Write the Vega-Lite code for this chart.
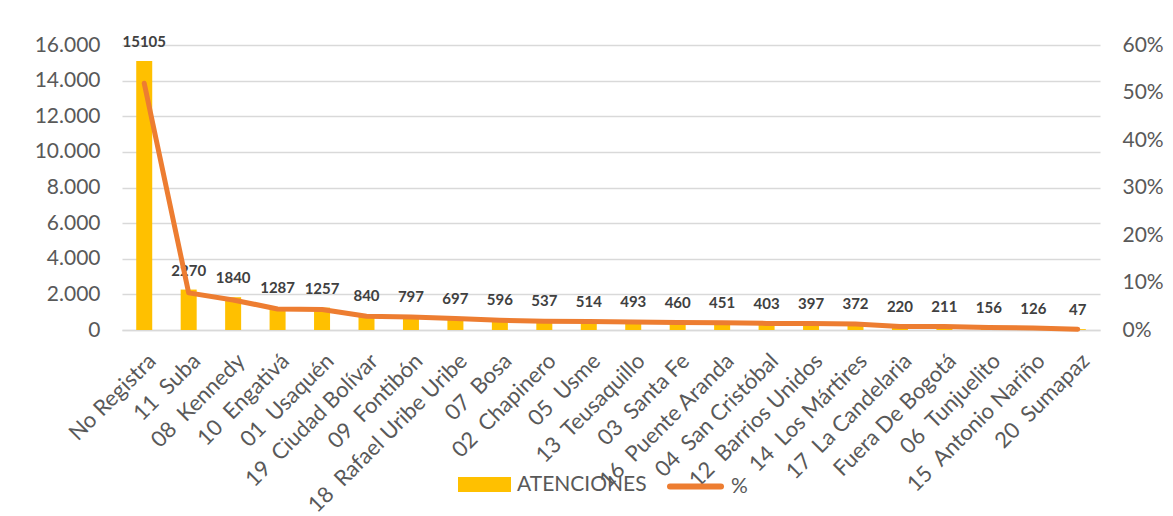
{
  "$schema": "https://vega.github.io/schema/vega-lite/v6.json",
  "autosize": {"type": "none"},
  "width": 978,
  "height": 285,
  "padding": {"left": 122, "top": 45, "right": 73, "bottom": 186},
  "background": "white",
  "config": {
    "font": "Lato",
    "view": {"stroke": null},
    "axis": {"labelFont": "Lato", "labelColor": "#595959", "labelFontSize": 21, "domain": false, "ticks": false, "grid": false, "labelOverlap": false},
    "legend": {"padding": 0}
  },
  "data": {
    "values": [
      {"cat": "No Registra", "atenciones": 15105, "pct": 0.5195},
      {"cat": "11\u00a0\u00a0Suba", "atenciones": 2270, "pct": 0.0781},
      {"cat": "08\u00a0\u00a0Kennedy", "atenciones": 1840, "pct": 0.0633},
      {"cat": "10\u00a0\u00a0Engativá", "atenciones": 1287, "pct": 0.0443},
      {"cat": "01\u00a0\u00a0Usaquén", "atenciones": 1257, "pct": 0.0432},
      {"cat": "19\u00a0\u00a0Ciudad Bolívar", "atenciones": 840, "pct": 0.0289},
      {"cat": "09\u00a0\u00a0Fontibón", "atenciones": 797, "pct": 0.0274},
      {"cat": "18\u00a0\u00a0Rafael Uribe Uribe", "atenciones": 697, "pct": 0.024},
      {"cat": "07\u00a0\u00a0Bosa", "atenciones": 596, "pct": 0.0205},
      {"cat": "02\u00a0\u00a0Chapinero", "atenciones": 537, "pct": 0.0185},
      {"cat": "05\u00a0\u00a0Usme", "atenciones": 514, "pct": 0.0177},
      {"cat": "13\u00a0\u00a0Teusaquillo", "atenciones": 493, "pct": 0.017},
      {"cat": "03\u00a0\u00a0Santa Fe", "atenciones": 460, "pct": 0.0158},
      {"cat": "16\u00a0\u00a0Puente Aranda", "atenciones": 451, "pct": 0.0155},
      {"cat": "04\u00a0\u00a0San Cristóbal", "atenciones": 403, "pct": 0.0139},
      {"cat": "12\u00a0\u00a0Barrios Unidos", "atenciones": 397, "pct": 0.0137},
      {"cat": "14\u00a0\u00a0Los Mártires", "atenciones": 372, "pct": 0.0128},
      {"cat": "17\u00a0\u00a0La Candelaria", "atenciones": 220, "pct": 0.0076},
      {"cat": "Fuera De Bogotá", "atenciones": 211, "pct": 0.0073},
      {"cat": "06\u00a0\u00a0Tunjuelito", "atenciones": 156, "pct": 0.0054},
      {"cat": "15\u00a0\u00a0Antonio Nariño", "atenciones": 126, "pct": 0.0043},
      {"cat": "20\u00a0\u00a0Sumapaz", "atenciones": 47, "pct": 0.0016}
    ]
  },
  "encoding": {
    "x": {
      "field": "cat", "type": "nominal", "sort": null, "title": null,
      "scale": {"paddingInner": 0.64, "paddingOuter": 0.32},
      "axis": {"labelAngle": -45, "labelAlign": "right", "labelBaseline": "top", "labelFontSize": 22, "labelPadding": 20, "labelOffset": 1, "labelLimit": 400, "labelOverlap": false, "domain": true, "domainColor": "#D9D9D9", "domainWidth": 1.5}
    }
  },
  "layer": [
    {
      "layer": [
        {
          "mark": {"type": "bar"},
          "encoding": {
            "y": {
              "field": "atenciones", "type": "quantitative", "title": null,
              "scale": {"domain": [0, 16000], "nice": false},
              "axis": {"values": [0, 2000, 4000, 6000, 8000, 10000, 12000, 14000, 16000], "tickCount": 9, "labelOverlap": false, "grid": true, "gridColor": "#D9D9D9", "gridWidth": 1.5, "labelPadding": 22, "labelExpr": "replace(format(datum.value, ','), ',', '.')"}
            },
            "fill": {
              "datum": "ATENCIONES",
              "type": "nominal",
              "scale": {"domain": ["ATENCIONES"], "range": ["#FFC000"]},
              "legend": {
                "title": null, "orient": "none", "direction": "horizontal",
                "legendX": 336, "legendY": 413,
                "symbolType": "M-1,-0.283H1V0.283H-1Z", "symbolSize": 2809,
                "symbolStrokeWidth": 0,
                "labelFontSize": 21, "labelColor": "#595959", "labelFont": "Lato",
                "labelOffset": 6
              }
            }
          }
        },
        {
          "mark": {"type": "text", "baseline": "bottom", "dy": -11, "fontWeight": "bold", "fontSize": 15, "color": "#404040", "font": "Lato"},
          "encoding": {
            "y": {"field": "atenciones", "type": "quantitative"},
            "text": {"field": "atenciones", "type": "quantitative", "format": "d"}
          }
        }
      ]
    },
    {
      "mark": {"type": "line", "strokeWidth": 5, "strokeCap": "round", "strokeJoin": "round"},
      "encoding": {
        "y": {
          "field": "pct", "type": "quantitative", "title": null,
          "scale": {"domain": [0, 0.6], "nice": false},
          "axis": {"orient": "right", "format": ".0%", "values": [0, 0.1, 0.2, 0.3, 0.4, 0.5, 0.6], "labelOverlap": false, "labelPadding": 22}
        },
        "stroke": {
          "datum": "%",
          "type": "nominal",
          "scale": {"domain": ["%"], "range": ["#ED7D31"]},
          "legend": {
            "title": null, "orient": "none", "direction": "horizontal",
            "legendX": 545, "legendY": 413,
            "symbolType": "stroke", "symbolSize": 2601, "symbolStrokeWidth": 6,
            "labelFontSize": 21, "labelColor": "#595959", "labelFont": "Lato",
            "labelOffset": 7,
            "encode": {"symbols": {"update": {"strokeCap": {"value": "round"}}}}
          }
        }
      }
    }
  ],
  "resolve": {"scale": {"y": "independent"}}
}
